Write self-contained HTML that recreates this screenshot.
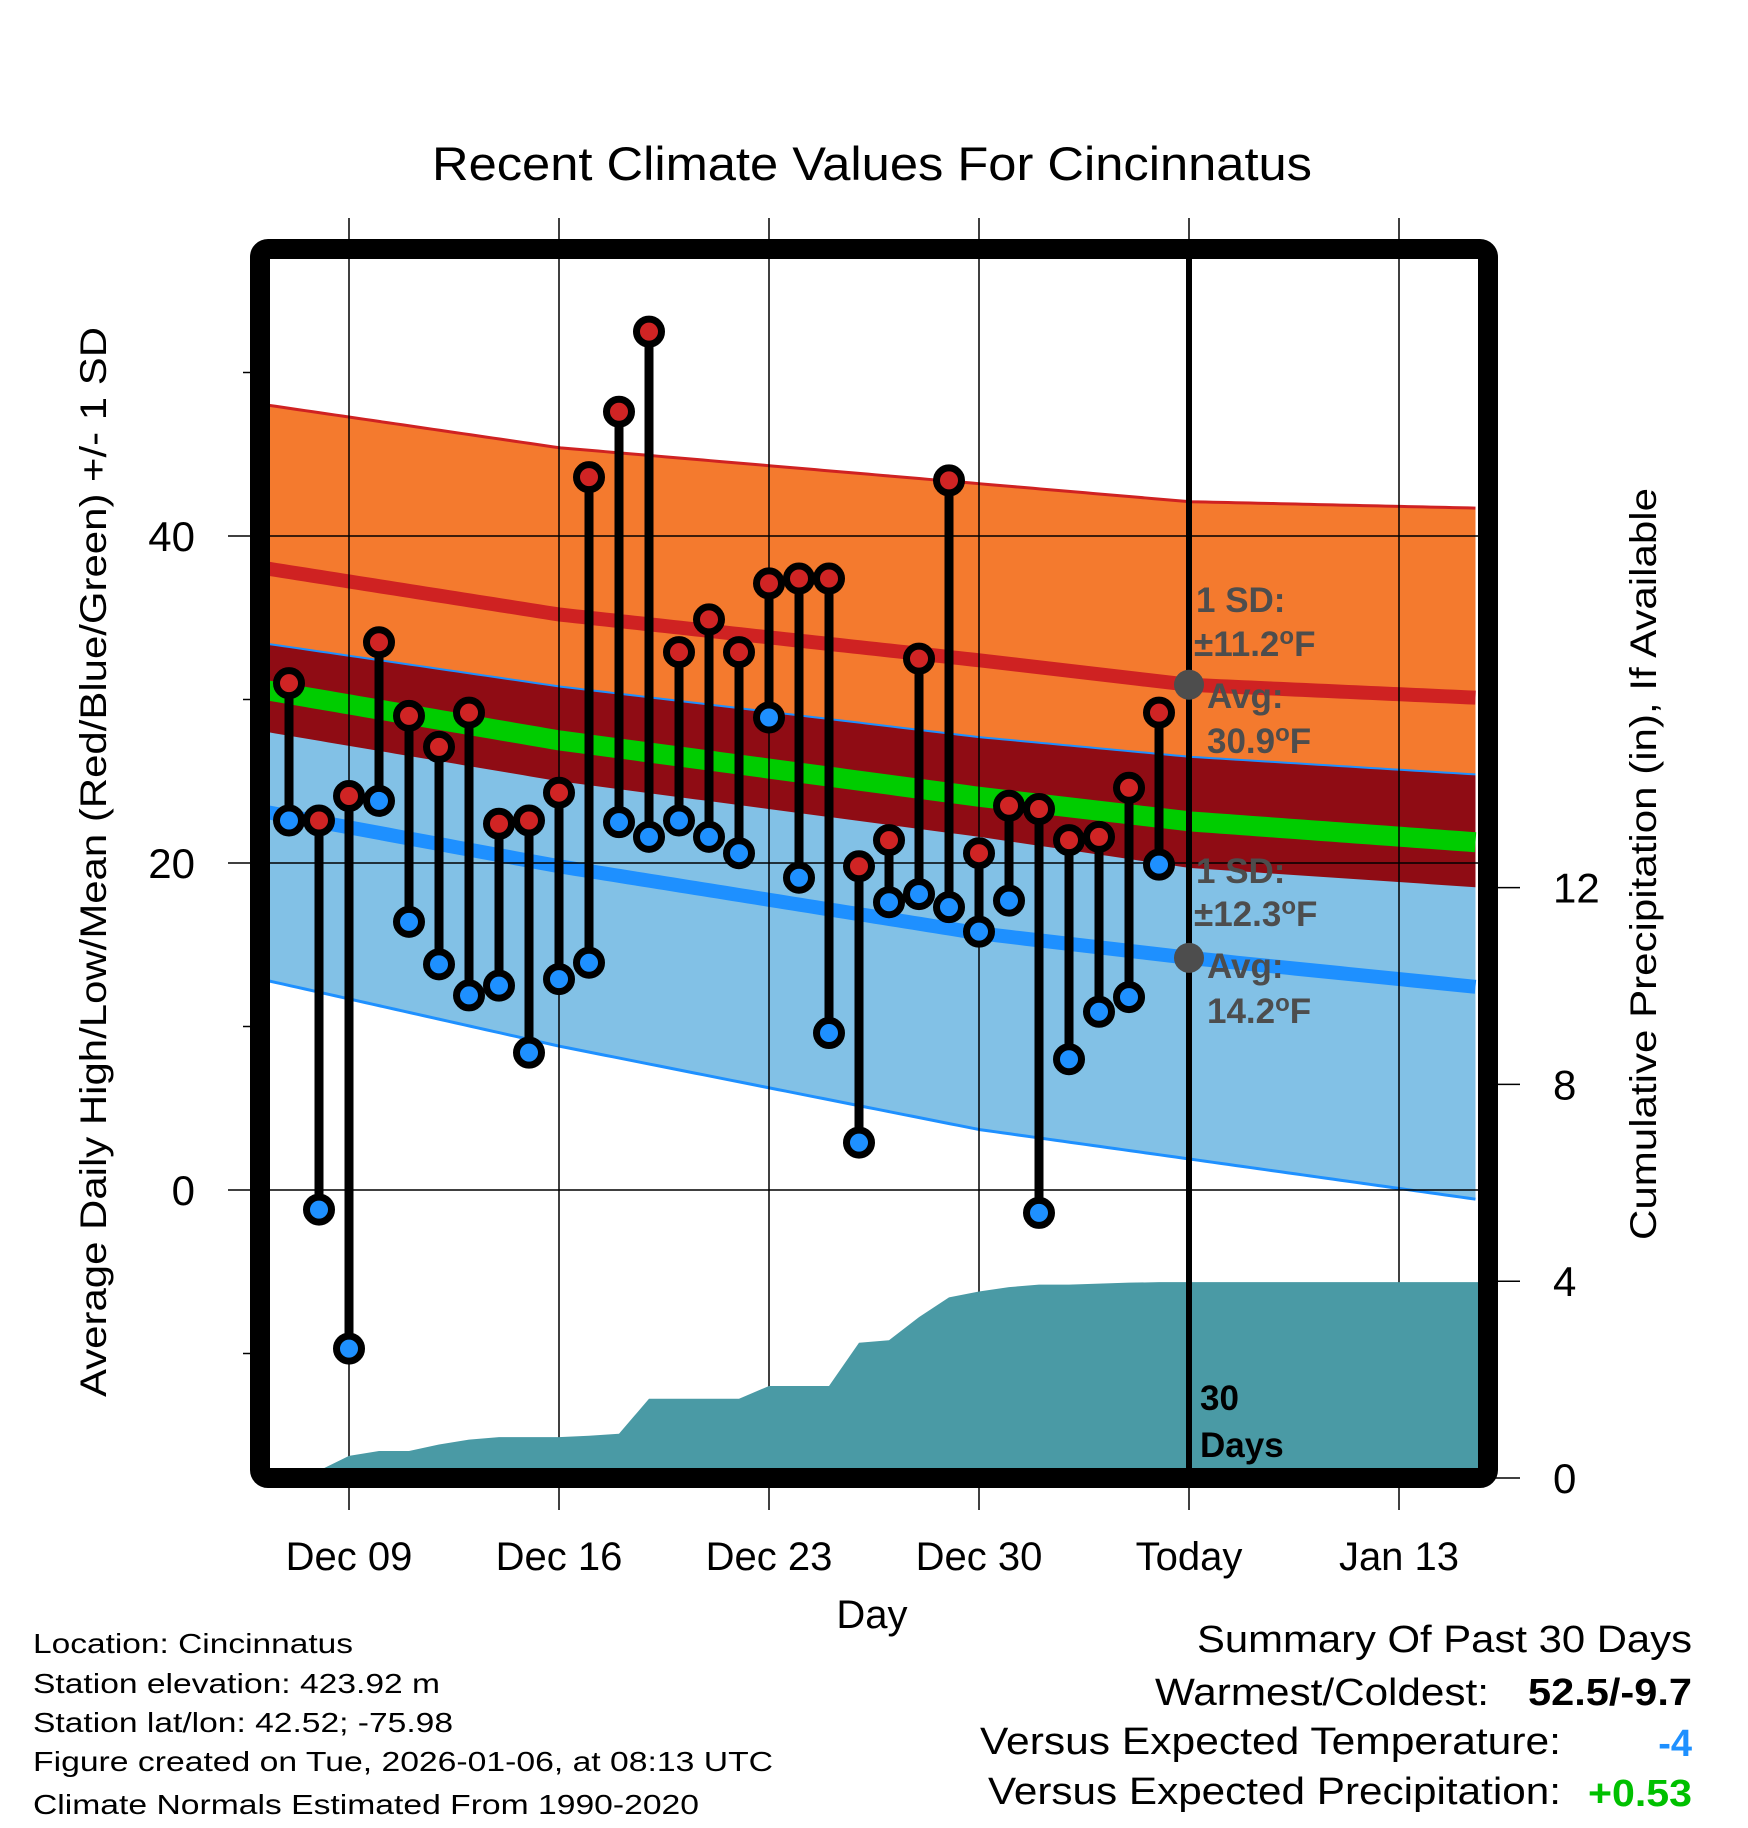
<!DOCTYPE html>
<html><head><meta charset="utf-8"><style>
html,body{margin:0;padding:0;background:#fff}
svg{display:block}
text{font-family:"Liberation Sans",Arial,sans-serif}
</style></head><body>
<svg id="chart" width="1748" height="1828" viewBox="0 0 1748 1828" xmlns="http://www.w3.org/2000/svg">
<defs><clipPath id="plotclip"><rect x="270" y="259" width="1208" height="1209"/></clipPath></defs>
<g id="fills" clip-path="url(#plotclip)"></g>
<g id="marks"></g>
<rect x="260" y="249" width="1228" height="1229" rx="8" fill="none" stroke="#000" stroke-width="20"/>
<text x="872" y="180" font-size="47" text-anchor="middle" textLength="880" lengthAdjust="spacingAndGlyphs">Recent Climate Values For Cincinnatus</text>
<text transform="translate(106,862) rotate(-90)" font-size="37" text-anchor="middle" textLength="1070" lengthAdjust="spacingAndGlyphs">Average Daily High/Low/Mean (Red/Blue/Green) +/- 1 SD</text>
<text transform="translate(1656,864) rotate(-90)" font-size="37" text-anchor="middle" textLength="752" lengthAdjust="spacingAndGlyphs">Cumulative Precipitation (in), If Available</text>
<text x="872" y="1628" font-size="40" text-anchor="middle">Day</text>
<g font-size="28">
<text x="33" y="1653" textLength="320" lengthAdjust="spacingAndGlyphs">Location: Cincinnatus</text>
<text x="33" y="1693" textLength="407" lengthAdjust="spacingAndGlyphs">Station elevation: 423.92 m</text>
<text x="33" y="1732" textLength="420" lengthAdjust="spacingAndGlyphs">Station lat/lon: 42.52; -75.98</text>
<text x="33" y="1771" textLength="740" lengthAdjust="spacingAndGlyphs">Figure created on Tue, 2026-01-06, at 08:13 UTC</text>
<text x="33" y="1814" textLength="666" lengthAdjust="spacingAndGlyphs">Climate Normals Estimated From 1990-2020</text>
</g>
<g font-size="38">
<text x="1197" y="1652" textLength="495" lengthAdjust="spacingAndGlyphs">Summary Of Past 30 Days</text>
<text x="1155" y="1705" textLength="334" lengthAdjust="spacingAndGlyphs">Warmest/Coldest:</text>
<text x="1528" y="1705" font-weight="bold" textLength="164" lengthAdjust="spacingAndGlyphs">52.5/-9.7</text>
<text x="980" y="1754" textLength="581" lengthAdjust="spacingAndGlyphs">Versus Expected Temperature:</text>
<text x="1692" y="1756" text-anchor="end" font-weight="bold" fill="#1e90ff">-4</text>
<text x="988" y="1804" textLength="573" lengthAdjust="spacingAndGlyphs">Versus Expected Precipitation:</text>
<text x="1588" y="1806" font-weight="bold" fill="#00c000" textLength="104" lengthAdjust="spacingAndGlyphs">+0.53</text>
</g>
</svg>
<script>
// ---- data ----
const dayLabels = ["Dec 07","Dec 08","Dec 09","Dec 10","Dec 11","Dec 12","Dec 13","Dec 14","Dec 15","Dec 16","Dec 17","Dec 18","Dec 19","Dec 20","Dec 21","Dec 22","Dec 23","Dec 24","Dec 25","Dec 26","Dec 27","Dec 28","Dec 29","Dec 30","Dec 31","Jan 01","Jan 02","Jan 03","Jan 04","Jan 05"];
const highs = [31.0,22.6,24.1,33.5,29.0,27.1,29.2,22.4,22.6,24.3,43.6,47.6,52.5,32.9,34.9,32.9,37.1,37.4,37.4,19.8,21.4,32.5,43.4,20.6,23.5,23.3,21.4,21.6,24.6,29.2];
const lows = [22.6,-1.2,-9.7,23.8,16.4,13.8,11.9,12.5,8.4,12.9,13.9,22.5,21.6,22.6,21.6,20.6,28.9,19.1,9.6,2.9,17.6,18.1,17.3,15.8,17.7,-1.4,8.0,10.9,11.8,19.9];
const precip = [0,0.15,0.45,0.55,0.55,0.68,0.78,0.83,0.83,0.83,0.86,0.9,1.61,1.61,1.61,1.61,1.87,1.87,1.87,2.75,2.8,3.27,3.67,3.79,3.88,3.93,3.93,3.95,3.97,3.98];
const normDays = [-2.7,7,21,28,37.7];           // days relative to Dec 09
const normHighMean = [38.0,35.2,32.4,30.9,30.1];
const normHighSD = [10.0,10.2,10.8,11.2,11.6];
const normLowMean = [23.1,19.8,15.7,14.2,12.4];
const normLowSD = [10.3,11.0,12.0,12.3,13.0];
const xTickLabels = ["Dec 09","Dec 16","Dec 23","Dec 30","Today","Jan 13"];
const xTickDays = [0,7,14,21,28,35];
const yTickValues = [0,20,40];
const yMinorValues = [-10,10,30,50];
const y2TickValues = [0,4,8,12];
const firstDay = -2; // Dec 07 relative to Dec 09
const todayDay = 28;

// ---- scales ----
const X = d => 349 + d*30;
const Y = t => 1190 - t*16.35;
const YP = p => 1478 - p*49.2;
const NS = "http://www.w3.org/2000/svg";
function mk(tag, attrs, parent){const e=document.createElementNS(NS,tag);for(const k in attrs)e.setAttribute(k,attrs[k]);parent.appendChild(e);return e;}
function interp(arr, d){
  if(d<=normDays[0])return arr[0];
  for(let i=1;i<normDays.length;i++){if(d<=normDays[i]){const f=(d-normDays[i-1])/(normDays[i]-normDays[i-1]);return arr[i-1]+f*(arr[i]-arr[i-1]);}}
  return arr[arr.length-1];
}
const fills = document.getElementById('fills');
const marks = document.getElementById('marks');
const svg = document.getElementById('chart');
const samples=[];for(let d=normDays[0];d<=normDays[normDays.length-1]+0.001;d+=0.25)samples.push(d);
const hm=d=>interp(normHighMean,d), hs=d=>interp(normHighSD,d), lm=d=>interp(normLowMean,d), ls=d=>interp(normLowSD,d);
function band(up,lo){let p=samples.map(d=>X(d)+","+Y(up(d))).join(" ");p+=" "+samples.slice().reverse().map(d=>X(d)+","+Y(lo(d))).join(" ");return p;}
function line(f){return samples.map(d=>X(d)+","+Y(f(d))).join(" ");}

let e;
e=mk('polygon',{points:band(d=>hm(d)+hs(d),d=>hm(d)-hs(d)),fill:'#f47a2e'},fills);


e=mk('polygon',{points:band(d=>lm(d)+ls(d),d=>lm(d)-ls(d)),fill:'#82c1e6'},fills);


e=mk('polygon',{points:band(d=>Math.min(hm(d)+hs(d),lm(d)+ls(d)),d=>Math.max(hm(d)-hs(d),lm(d)-ls(d))),fill:'#8f0c14'},fills);


e=mk('polyline',{points:line(d=>hm(d)+hs(d)),fill:'none',stroke:'#cf2222',"stroke-width":3},fills);


e=mk('polyline',{points:line(d=>lm(d)+ls(d)),fill:'none',stroke:'#1e90ff',"stroke-width":2},fills);


e=mk('polyline',{points:line(d=>lm(d)-ls(d)),fill:'none',stroke:'#1e90ff',"stroke-width":3},fills);


e=mk('polyline',{points:line(hm),fill:'none',stroke:'#cf2222',"stroke-width":14},fills);


e=mk('polyline',{points:line(lm),fill:'none',stroke:'#1e90ff',"stroke-width":14},fills);


e=mk('polyline',{points:line(d=>(hm(d)+lm(d))/2),fill:'none',stroke:'#00cc00',"stroke-width":20},fills);



// grid
xTickDays.forEach((d,i)=>{
  const g=mk('line',{x1:X(d),x2:X(d),y1:218,y2:1510,stroke:'#000',"stroke-width":1.5},svg);
  
  
  const t=mk('text',{x:X(d),y:1570,"font-size":40,"text-anchor":"middle"},svg);
  t.textContent=xTickLabels[i];
  
  
});
svg.insertBefore(fills,svg.firstChild.nextSibling);
yTickValues.forEach(v=>{
  const g=mk('line',{x1:228,x2:1478,y1:Y(v),y2:Y(v),stroke:'#000',"stroke-width":1.5},svg);
  
  
  const t=mk('text',{x:195,y:Y(v)+15,"font-size":42,"text-anchor":"end"},svg);
  t.textContent=String(v);
  
  
});
yMinorValues.forEach(v=>{
  const g=mk('line',{x1:243,x2:252,y1:Y(v),y2:Y(v),stroke:'#000',"stroke-width":1.5},svg);
  
  
});
y2TickValues.forEach(v=>{
  const g=mk('line',{x1:1495,x2:1520,y1:YP(v),y2:YP(v),stroke:'#000',"stroke-width":1.5},svg);
  
  
  const t=mk('text',{x:1553,y:YP(v)+15,"font-size":42},svg);
  t.textContent=String(v);
  
  
});
// keep grid under plot fills? gridlines drawn on top of bands; move fills first
svg.insertBefore(fills,svg.firstChild);
const gridEls=[...svg.querySelectorAll('line')];
gridEls.forEach(g=>svg.insertBefore(g,marks));

// precipitation area
let pp=X(firstDay)+","+YP(0)+" ";
precip.forEach((p,i)=>{pp+=X(firstDay+i)+","+YP(p)+" ";});
pp+=X(40)+","+YP(precip[precip.length-1])+" "+X(40)+","+YP(0);
const pg=mk('g',{"clip-path":"url(#plotclip)"},marks);
e=mk('polygon',{points:pp,fill:'#4a9aa5'},pg);



// today line
e=mk('line',{x1:X(todayDay),x2:X(todayDay),y1:259,y2:1468,stroke:'#000',"stroke-width":6},marks);



// stems and markers
highs.forEach((h,i)=>{
  const x=X(firstDay+i);
  const s=mk('line',{x1:x,x2:x,y1:Y(h),y2:Y(lows[i]),stroke:'#000',"stroke-width":9},marks);
  
  
});
highs.forEach((h,i)=>{
  const x=X(firstDay+i);
  const c1=mk('circle',{cx:x,cy:Y(h),r:12.5,fill:'#d02424',stroke:'#000',"stroke-width":7},marks);
  
  
  const c2=mk('circle',{cx:x,cy:Y(lows[i]),r:12.5,fill:'#1e90ff',stroke:'#000',"stroke-width":7},marks);
  
  
});

// annotations
const tx=X(todayDay);
const hiToday=interp(normHighMean,todayDay), loToday=interp(normLowMean,todayDay);
e=mk('circle',{cx:tx,cy:Y(hiToday),r:15,fill:'#4d4d4d'},marks);


e=mk('circle',{cx:tx,cy:Y(loToday),r:15,fill:'#4d4d4d'},marks);


function ann(x,y,html,name,fill){const t=mk('text',{x:x,y:y,"font-size":35,"font-weight":"bold",fill:fill||'#4d4d4d'},marks);t.innerHTML=html;return t;}
e=ann(1196,612,'1 SD:');


e=ann(1194,656,'±11.2<tspan dy="-12" font-size="24">o</tspan><tspan dy="12">F</tspan>');


e=ann(1207,708,'Avg:');


e=ann(1207,753,'30.9<tspan dy="-12" font-size="24">o</tspan><tspan dy="12">F</tspan>');


e=ann(1196,883,'1 SD:');


e=ann(1194,926,'±12.3<tspan dy="-12" font-size="24">o</tspan><tspan dy="12">F</tspan>');


e=ann(1207,978,'Avg:');


e=ann(1207,1023,'14.2<tspan dy="-12" font-size="24">o</tspan><tspan dy="12">F</tspan>');


e=ann(1200,1410,'30',null,'#000');


e=ann(1200,1457,'Days',null,'#000');


</script>
</body></html>
